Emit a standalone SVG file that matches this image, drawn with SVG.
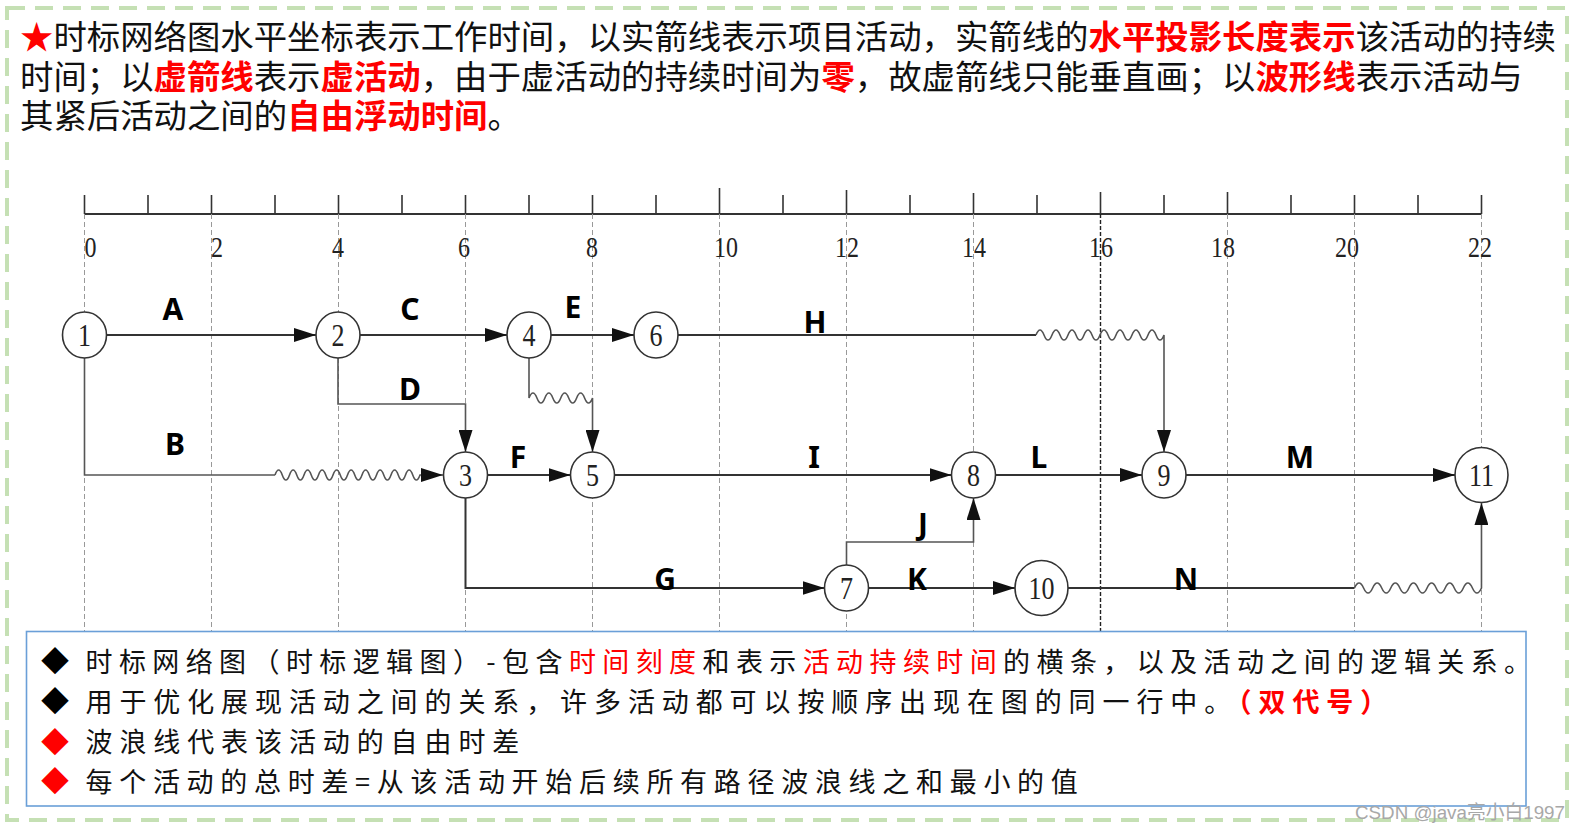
<svg xmlns="http://www.w3.org/2000/svg" width="1585" height="831" viewBox="0 0 1585 831">
<defs>
<style>
.ttl{font-family:"Noto Sans CJK SC","Noto Sans",sans-serif;font-size:33.4px;fill:#111}
.red{fill:#ff0000;font-weight:bold}
.tick{stroke:#333;stroke-width:1.6}
.grid{stroke:#999;stroke-width:1;stroke-dasharray:5 3;fill:none}
.grid16{stroke:#222;stroke-width:1.4;stroke-dasharray:4 2;fill:none}
.ax{font-family:"Liberation Serif",serif;font-size:24px;text-anchor:middle;fill:#222}
.conn{fill:none;stroke:#333;stroke-width:2}
.thin{fill:none;stroke:#555;stroke-width:1.6}
.circ{fill:#fff;stroke:#333;stroke-width:1.6}
.num{font-family:"Liberation Serif",serif;font-size:26px;text-anchor:middle;fill:#222}
.lbl{font-family:"Noto Sans","Liberation Sans",sans-serif;font-weight:bold;font-size:30px;text-anchor:middle;fill:#000}
.bt{font-family:"Noto Sans CJK SC","Noto Sans",sans-serif;font-size:27px;fill:#111}
.dia{font-family:"Noto Sans CJK SC","DejaVu Sans",sans-serif;font-size:28px}
</style>
<marker id="ah" viewBox="0 0 22 14" refX="22" refY="7" markerWidth="22" markerHeight="14" markerUnits="userSpaceOnUse" orient="auto">
<path d="M0,0 L22,7 L0,14 z" fill="#111"/>
</marker>
</defs>
<rect x="0" y="0" width="1585" height="831" fill="#fff"/>
<rect x="7" y="8" width="1560" height="812" fill="none" stroke="#c5e0b4" stroke-width="4" stroke-dasharray="18 10"/>

<g id="title">
<text class="ttl" x="20" y="48.5"><tspan fill="#ff0000">★</tspan>时标网络图水平坐标表示工作时间，以实箭线表示项目活动，实箭线的<tspan class="red">水平投影长度表示</tspan>该活动的持续</text>
<text class="ttl" x="20" y="88.5">时间；以<tspan class="red">虚箭线</tspan>表示<tspan class="red">虚活动</tspan>，由于虚活动的持续时间为<tspan class="red">零</tspan>，故虚箭线只能垂直画；以<tspan class="red">波形线</tspan>表示活动与</text>
<text class="ttl" x="20" y="127.5">其紧后活动之间的<tspan class="red">自由浮动时间</tspan>。</text>
</g>

<g id="axis">
<line x1="84.5" y1="214" x2="1481.5" y2="214" stroke="#333" stroke-width="2"/>
<g class="tick">
<line x1="84.5" y1="195" x2="84.5" y2="214"/><line x1="148" y1="195" x2="148" y2="214"/>
<line x1="211.5" y1="195" x2="211.5" y2="214"/><line x1="275" y1="195" x2="275" y2="214"/>
<line x1="338.5" y1="195" x2="338.5" y2="214"/><line x1="402" y1="195" x2="402" y2="214"/>
<line x1="465.5" y1="195" x2="465.5" y2="214"/><line x1="529" y1="195" x2="529" y2="214"/>
<line x1="592.5" y1="195" x2="592.5" y2="214"/><line x1="656" y1="195" x2="656" y2="214"/>
<line x1="719.5" y1="188" x2="719.5" y2="214"/><line x1="783" y1="195" x2="783" y2="214"/>
<line x1="846.5" y1="190" x2="846.5" y2="214"/><line x1="910" y1="195" x2="910" y2="214"/>
<line x1="973.5" y1="193" x2="973.5" y2="214"/><line x1="1037" y1="195" x2="1037" y2="214"/>
<line x1="1100.5" y1="192" x2="1100.5" y2="214"/><line x1="1164" y1="195" x2="1164" y2="214"/>
<line x1="1227.5" y1="192" x2="1227.5" y2="214"/><line x1="1291" y1="195" x2="1291" y2="214"/>
<line x1="1354.5" y1="195" x2="1354.5" y2="214"/><line x1="1418" y1="195" x2="1418" y2="214"/>
<line x1="1481.5" y1="195" x2="1481.5" y2="214"/>
</g>
<g class="grid">
<line x1="84.5" y1="214" x2="84.5" y2="631"/><line x1="211.5" y1="214" x2="211.5" y2="631"/>
<line x1="338.5" y1="214" x2="338.5" y2="631"/><line x1="465.5" y1="214" x2="465.5" y2="631"/>
<line x1="592.5" y1="214" x2="592.5" y2="631"/><line x1="719.5" y1="214" x2="719.5" y2="631"/>
<line x1="846.5" y1="214" x2="846.5" y2="631"/><line x1="973.5" y1="214" x2="973.5" y2="631"/>
<line x1="1227.5" y1="214" x2="1227.5" y2="631"/><line x1="1354.5" y1="214" x2="1354.5" y2="631"/>
<line x1="1481.5" y1="214" x2="1481.5" y2="631"/>
</g>
<line class="grid16" x1="1100.5" y1="214" x2="1100.5" y2="631"/>
<g class="ax">
<text transform="translate(90.5,257) scale(1,1.25)">0</text>
<text transform="translate(217,257) scale(1,1.25)">2</text>
<text transform="translate(338,257) scale(1,1.25)">4</text>
<text transform="translate(464,257) scale(1,1.25)">6</text>
<text transform="translate(592,257) scale(1,1.25)">8</text>
<text transform="translate(726,257) scale(1,1.25)">10</text>
<text transform="translate(847,257) scale(1,1.25)">12</text>
<text transform="translate(974,257) scale(1,1.25)">14</text>
<text transform="translate(1101,257) scale(1,1.25)">16</text>
<text transform="translate(1223,257) scale(1,1.25)">18</text>
<text transform="translate(1347,257) scale(1,1.25)">20</text>
<text transform="translate(1480,257) scale(1,1.25)">22</text>
</g>
</g>

<g id="connectors">
<path class="conn" marker-end="url(#ah)" d="M106.5,335 H316"/>
<path class="conn" marker-end="url(#ah)" d="M360,335 H507"/>
<path class="conn" marker-end="url(#ah)" d="M551,335 H634"/>
<path class="conn" d="M678,335 H1036"/>
<path class="thin" marker-end="url(#ah)" d="M1036,335 q4,-10 8,0 t8,0 t8,0 t8,0 t8,0 t8,0 t8,0 t8,0 t8,0 t8,0 t8,0 t8,0 t8,0 t8,0 t8,0 t8,0 V452"/>
<path class="thin" d="M84.5,358 V475 H275"/>
<path class="thin" marker-end="url(#ah)" d="M275,475 q3.625,-10 7.25,0 t7.25,0 t7.25,0 t7.25,0 t7.25,0 t7.25,0 t7.25,0 t7.25,0 t7.25,0 t7.25,0 t7.25,0 t7.25,0 t7.25,0 t7.25,0 t7.25,0 t7.25,0 t7.25,0 t7.25,0 t7.25,0 t7.25,0 H443"/>
<path class="thin" marker-end="url(#ah)" d="M338,358 V404 H465.5 V452"/>
<path class="thin" marker-end="url(#ah)" d="M529,358 V398 q3.97,-10 7.94,0 t7.94,0 t7.94,0 t7.94,0 t7.94,0 t7.94,0 t7.94,0 t7.94,0 V452"/>
<path class="conn" marker-end="url(#ah)" d="M487.5,475 H570.5"/>
<path class="conn" marker-end="url(#ah)" d="M614.5,475 H951.5"/>
<path class="conn" marker-end="url(#ah)" d="M995.5,475 H1142"/>
<path class="conn" marker-end="url(#ah)" d="M1186,475 H1455"/>
<path class="conn" marker-end="url(#ah)" d="M465.5,498 V588 H824.5"/>
<path class="thin" marker-end="url(#ah)" d="M846.5,565 V542 H973.5 V498"/>
<path class="conn" marker-end="url(#ah)" d="M868.5,588 H1015"/>
<path class="conn" d="M1068,588 H1354.5"/>
<path class="thin" marker-end="url(#ah)" d="M1354.5,588 q4.535,-10 9.07,0 t9.07,0 t9.07,0 t9.07,0 t9.07,0 t9.07,0 t9.07,0 t9.07,0 t9.07,0 t9.07,0 t9.07,0 t9.07,0 t9.07,0 t9.07,0 V503"/>
</g>

<g id="activity-labels" class="lbl">
<text x="173" y="320">A</text>
<text x="410" y="320">C</text>
<text x="573" y="318">E</text>
<text x="815" y="333">H</text>
<text x="410" y="400">D</text>
<text x="175" y="455">B</text>
<text x="518" y="468">F</text>
<text x="665" y="590">G</text>
<text x="814" y="468">I</text>
<text x="1039" y="468">L</text>
<text x="1300" y="468">M</text>
<text x="923" y="535">J</text>
<text x="917" y="590">K</text>
<text x="1186" y="590">N</text>
</g>

<g id="node1"><ellipse class="circ" cx="84.5" cy="335" rx="22" ry="23"/><text class="num" transform="translate(84.5,346) scale(1,1.25)">1</text></g>
<g id="node2"><ellipse class="circ" cx="338" cy="335" rx="22" ry="23"/><text class="num" transform="translate(338,346) scale(1,1.25)">2</text></g>
<g id="node4"><ellipse class="circ" cx="529" cy="335" rx="22" ry="23"/><text class="num" transform="translate(529,346) scale(1,1.25)">4</text></g>
<g id="node6"><ellipse class="circ" cx="656" cy="335" rx="22" ry="23"/><text class="num" transform="translate(656,346) scale(1,1.25)">6</text></g>
<g id="node3"><ellipse class="circ" cx="465.5" cy="475" rx="22" ry="23"/><text class="num" transform="translate(465.5,486) scale(1,1.25)">3</text></g>
<g id="node5"><ellipse class="circ" cx="592.5" cy="475" rx="22" ry="23"/><text class="num" transform="translate(592.5,486) scale(1,1.25)">5</text></g>
<g id="node8"><ellipse class="circ" cx="973.5" cy="475" rx="22" ry="23"/><text class="num" transform="translate(973.5,486) scale(1,1.25)">8</text></g>
<g id="node9"><ellipse class="circ" cx="1164" cy="475" rx="22" ry="23"/><text class="num" transform="translate(1164,486) scale(1,1.25)">9</text></g>
<g id="node11"><ellipse class="circ" cx="1481.5" cy="475" rx="26.5" ry="27.5"/><text class="num" transform="translate(1481.5,486) scale(1,1.25)">11</text></g>
<g id="node7"><ellipse class="circ" cx="846.5" cy="588" rx="22" ry="23"/><text class="num" transform="translate(846.5,599) scale(1,1.25)">7</text></g>
<g id="node10"><ellipse class="circ" cx="1041.5" cy="588" rx="26.5" ry="27.5"/><text class="num" transform="translate(1041.5,599) scale(1,1.25)">10</text></g>

<g id="notes">
<rect x="26.5" y="631.5" width="1499.5" height="174.5" fill="#fff" stroke="#6a9fd8" stroke-width="1.6"/>
<text class="dia" x="41" y="672" fill="#000">◆</text>
<text class="dia" x="41" y="712" fill="#000">◆</text>
<text class="dia" x="41" y="752.5" fill="#ff0000">◆</text>
<text class="dia" x="41" y="792" fill="#ff0000">◆</text>
<text class="bt" x="85.5" y="671.5" letter-spacing="6.4">时标网络图（时标逻辑图）-包含<tspan fill="#ff0000">时间刻度</tspan>和表示<tspan fill="#ff0000">活动持续时间</tspan>的横条，以及活动之间的逻辑关系。</text>
<text class="bt" x="85.5" y="711.5" letter-spacing="6.9">用于优化展现活动之间的关系，许多活动都可以按顺序出现在图的同一行中。<tspan fill="#ff0000" font-weight="bold">（双代号）</tspan></text>
<text class="bt" x="85.5" y="752" letter-spacing="6.9" fill="#ff0000">波浪线代表该活动的自由时差</text>
<text class="bt" x="85.5" y="791.5" letter-spacing="6.7" fill="#ff0000">每个活动的总时差=从该活动开始后续所有路径波浪线之和最小的值</text>
</g>

<text x="1355" y="819" font-family="Liberation Sans Narrow,Liberation Sans,Noto Sans CJK SC,sans-serif" font-size="19" fill="#a8a8a8" textLength="210" lengthAdjust="spacingAndGlyphs">CSDN @java亮小白1997</text>
</svg>
